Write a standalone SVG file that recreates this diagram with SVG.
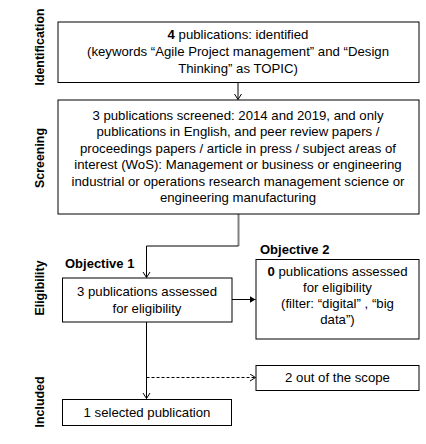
<svg xmlns="http://www.w3.org/2000/svg" width="426" height="444" viewBox="0 0 426 444">
<style>
.box{fill:#fff;stroke:#000;stroke-width:1}
.t{font-family:"Liberation Sans",Arial,sans-serif;font-size:13.2px;fill:#000;text-anchor:middle}
.b{font-weight:bold}
.side{font-family:"Liberation Sans",Arial,sans-serif;font-size:12.4px;font-weight:bold;fill:#000;text-anchor:middle}
.lab{font-family:"Liberation Sans",Arial,sans-serif;font-size:13px;font-weight:bold;fill:#000}
.c{fill:none;stroke:#000;stroke-width:1}
</style>
<defs>
<marker id="open" markerWidth="10" markerHeight="10" refX="6" refY="4" orient="auto" markerUnits="userSpaceOnUse">
<path d="M0.5,0.5 L6,4 L0.5,7.5" fill="none" stroke="#000" stroke-width="1"/>
</marker>
<marker id="fill" markerWidth="10" markerHeight="10" refX="6" refY="3.5" orient="auto" markerUnits="userSpaceOnUse">
<path d="M0,0 L6,3.5 L0,7 Z" fill="#000"/>
</marker>
</defs>
<g id="stages">
<text class="side" transform="translate(44,47) rotate(-90)">Identification</text>
<text class="side" transform="translate(44,158) rotate(-90)">Screening</text>
<text class="side" transform="translate(44,288) rotate(-90)">Eligibility</text>
<text class="side" transform="translate(44,402) rotate(-90)">Included</text>
</g>
<g id="connectors">
<path class="c" d="M238,82.5 V99.5" marker-end="url(#open)"/>
<path d="M238.5,214 V246" fill="none" stroke="#808080" stroke-width="2"/>
<path class="c" d="M238.5,246 H146.5 V277.5" marker-end="url(#open)"/>
<path class="c" d="M232,299.5 H255.5" marker-end="url(#fill)"/>
<path class="c" d="M146.5,322 V398.5" marker-end="url(#open)"/>
<path class="c" d="M146.5,377.5 H255.5" stroke-dasharray="3,2" marker-end="url(#open)"/>
</g>
<g id="identified">
<rect class="box" x="58" y="22" width="361" height="60.5"/>
<text class="t" x="238" y="39"><tspan class="b">4</tspan> publications: identified</text>
<text class="t" x="238" y="56">(keywords “Agile Project management” and “Design</text>
<text class="t" x="238" y="73">Thinking” as TOPIC)</text>
</g>
<g id="screened">
<rect class="box" x="58" y="100" width="361" height="114"/>
<text class="t" x="238" y="119.5">3 publications screened: 2014 and 2019, and only</text>
<text class="t" x="238" y="136">publications in English, and peer review papers /</text>
<text class="t" x="238" y="152.5">proceedings papers / article in press / subject areas of</text>
<text class="t" x="238" y="169">interest (WoS): Management or business or engineering</text>
<text class="t" x="238" y="185.5">industrial or operations research management science or</text>
<text class="t" x="238" y="202">engineering manufacturing</text>
</g>
<g id="objective1">
<text class="lab" x="65" y="268">Objective 1</text>
<rect class="box" x="62.5" y="278" width="169.5" height="44"/>
<text class="t" x="147" y="296">3 publications assessed</text>
<text class="t" x="147" y="312.5">for eligibility</text>
</g>
<g id="objective2">
<text class="lab" x="260" y="254">Objective 2</text>
<rect class="box" x="256" y="259.5" width="163" height="79.5"/>
<text class="t" x="337.5" y="276"><tspan class="b">0</tspan> publications assessed</text>
<text class="t" x="337.5" y="292">for eligibility</text>
<text class="t" x="337.5" y="308">(filter: “digital” , “big</text>
<text class="t" x="337.5" y="324">data”)</text>
</g>
<g id="out">
<rect class="box" x="256" y="365.5" width="163" height="25"/>
<text class="t" x="337.5" y="382">2 out of the scope</text>
</g>
<g id="selected">
<rect class="box" x="62.5" y="399.5" width="169" height="26"/>
<text class="t" x="147" y="417">1 selected publication</text>
</g>
</svg>
